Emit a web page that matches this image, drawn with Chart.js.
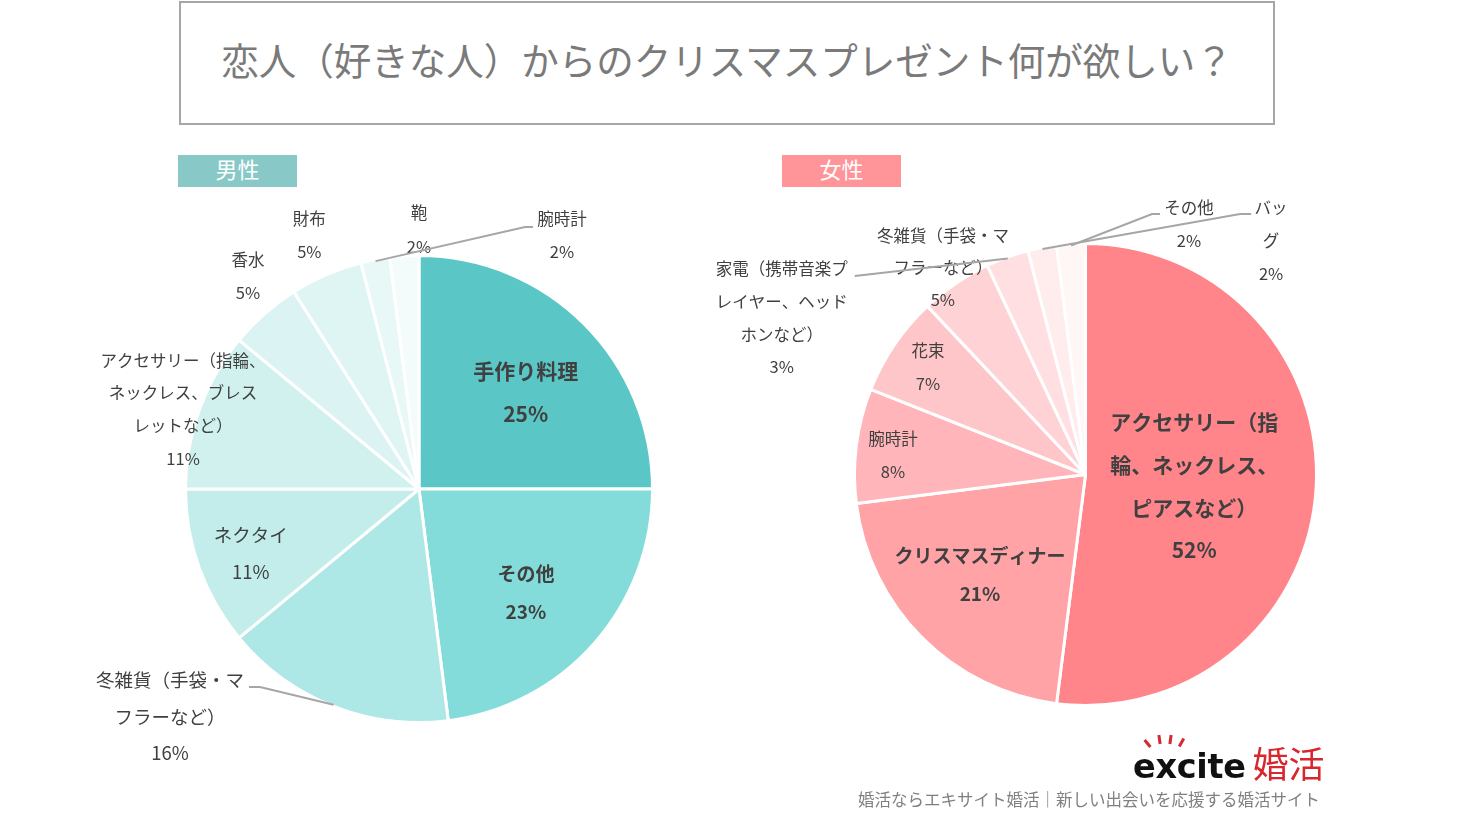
<!DOCTYPE html>
<html lang="ja">
<head>
<meta charset="utf-8">
<script src="https://cdn.jsdelivr.net/npm/chart.js@4.4.1/dist/chart.umd.min.js"></script>
<style>
  body { margin: 0; width: 1460px; height: 822px; background: #fff; position: relative; overflow: hidden;
         font-family: "Noto Sans CJK JP", "Noto Sans", sans-serif; }
  #title { position: absolute; left: 179px; top: 1px; width: 1092px; height: 120px; border: 2px solid #a6a6a6;
           display: flex; align-items: center; justify-content: center; box-sizing: content-box;
           font-size: 37.5px; color: #7a7a7a; }
  #title span { position: relative; top: -5px; }
  .tag { position: absolute; top: 155px; width: 119px; height: 32px; color: #fff; font-size: 22px;
         line-height: 26px; text-align: center; }
  #tagM { left: 178px; background: #88c9c8; }
  #tagF { left: 782px; background: #ff9499; }
  canvas { position: absolute; top: 0; }
  #male { left: 0; }
  #female { left: 680px; }
  #logo { position: absolute; left: 1133px; top: 736px; white-space: nowrap; }
  #logo .ex { font-family: "DejaVu Sans", sans-serif; font-weight: bold; font-size: 33.5px; color: #111; letter-spacing: -0.3px; }
  #logo .kk { font-size: 36px; color: #d7282f; margin-left: 7px; }
  .ray { position: absolute; width: 3px; height: 9px; background: #d7282f; }
  #tagline { position: absolute; right: 140px; top: 787px; font-size: 16.5px; color: #808080; white-space: nowrap; }
</style>
</head>
<body>
<div id="title"><span>恋人（好きな人）からのクリスマスプレゼント何が欲しい？</span></div>
<div class="tag" id="tagM">男性</div>
<div class="tag" id="tagF">女性</div>
<canvas id="male" width="730" height="822"></canvas>
<canvas id="female" width="780" height="822"></canvas>
<div id="logo"><span class="ex">excite</span><span class="kk">婚活</span></div>
<div class="ray" style="left:1146px;top:739px;transform:rotate(-40deg)"></div>
<div class="ray" style="left:1158px;top:735px;transform:rotate(-8deg)"></div>
<div class="ray" style="left:1169px;top:735px;transform:rotate(8deg)"></div>
<div class="ray" style="left:1180px;top:738px;transform:rotate(30deg)"></div>
<div id="tagline">婚活ならエキサイト婚活｜新しい出会いを応援する婚活サイト</div>
<script>
// 男性
const maleCategories = ['手作り料理', 'その他', '冬雑貨（手袋・マフラーなど）', 'ネクタイ',
  'アクセサリー（指輪、ネックレス、ブレスレットなど）', '香水', '財布', '鞄', '腕時計'];
const maleValues = [25, 23, 16, 11, 11, 5, 5, 2, 2];
const maleColors = ['#5bc6c6', '#84dcda', '#ade8e6', '#c3edeb', '#d1f1ef', '#dbf4f3', '#dff5f4', '#e8f8f7', '#f4fbfb'];

// 女性
const femaleCategories = ['アクセサリー（指輪、ネックレス、ピアスなど）', 'クリスマスディナー', '腕時計', '花束',
  '冬雑貨（手袋・マフラーなど）', '家電（携帯音楽プレイヤー、ヘッドホンなど）', 'その他', 'バッグ'];
const femaleValues = [52, 21, 8, 7, 5, 3, 2, 2];
const femaleColors = ['#ff858b', '#ffa3a7', '#ffb5b9', '#ffc6c9', '#ffd2d5', '#ffdfe1', '#ffedee', '#fff6f6'];

// ラベルの配置（中心角方向 k*半径 + ずれ）
const maleLabelStyle = [
  { k: 0.65, dx: 0, dy: 10, size: 21, bold: true, lh: 43 },
  { k: 0.62, dx: -1, dy: 9, size: 19, bold: true, lh: 38 },
  { k: 1, dx: -163.6, dy: 11.8, size: 18.5, lh: 36.5, wrap: [8], leader: { from: 2, pts: [[90, -29.5], [79, -29.5]] } },
  { k: 0.78, dx: 2, dy: 3, size: 18.5, lh: 37 },
  { k: 1.09, dx: 2, dy: 6, size: 16.5, lh: 32.7, wrap: [10, 19] },
  { k: 1.18, dx: 10, dy: -7, size: 16.5, lh: 33 },
  { k: 1.19, dx: 0, dy: 0, size: 16.5, lh: 33 },
  { k: 1, dx: 43.5, dy: -31, size: 16.5, lh: 34 },
  { k: 1, dx: 157.6, dy: -22, size: 16.5, lh: 33, leader: { from: 7, pts: [[-37, -8.5], [-29, -8.5]] } }
];
const femaleLabelStyle = [
  { k: 0.47, dx: 1, dy: 5, size: 21, bold: true, lh: 42.7, wrap: [8, 16] },
  { k: 0.65, dx: 0, dy: -5, size: 19, bold: true, lh: 38 },
  { k: 0.85, dx: 1, dy: 5.5, size: 16.5, lh: 33 },
  { k: 0.83, dx: 0, dy: 0, size: 16.5, lh: 33 },
  { k: 1.09, dx: -2, dy: 0, size: 16.5, lh: 32, wrap: [8] },
  { k: 1, dx: -226, dy: 59.4, size: 16.5, lh: 32.7, wrap: [8, 16], leader: { from: 5, pts: [[73, -42]] } },
  { k: 1, dx: 146.5, dy: -24.6, size: 16.5, lh: 33, leader: { from: 7, pts: [[-37, -10.5], [-29, -10.5]] } },
  { k: 1, dx: 200, dy: -4.5, size: 16.5, lh: 33, wrap: [2], leader: { from: 6, pts: [[-31, -27], [-20, -27]] } }
];

const FONT = '"Noto Sans CJK JP", "Noto Sans", sans-serif';

function splitAt(text, breaks) {
  const out = [];
  let last = 0;
  (breaks || []).forEach(b => { out.push(text.slice(last, b)); last = b; });
  out.push(text.slice(last));
  return out;
}

const sliceLabels = {
  id: 'sliceLabels',
  afterDatasetsDraw(chart, args, opts) {
    const ctx = chart.ctx;
    const values = chart.data.datasets[0].data;
    const arcs = chart.getDatasetMeta(0).data;
    const total = values.reduce((a, b) => a + b, 0);
    const edge = (idx) => {
      const p = arcs[idx].getProps(['x', 'y', 'startAngle', 'endAngle', 'outerRadius'], true);
      const mid = (p.startAngle + p.endAngle) / 2;
      return { p, mid, r: p.outerRadius - 1.5 };
    };
    ctx.save();
    opts.styles.forEach((st, i) => {
      const { p, mid, r } = edge(i);
      const lx = p.x + Math.cos(mid) * r * st.k + st.dx;
      const ly = p.y + Math.sin(mid) * r * st.k + st.dy;
      if (st.leader) {
        const e = edge(st.leader.from);
        ctx.beginPath();
        ctx.moveTo(e.p.x + Math.cos(e.mid) * e.r, e.p.y + Math.sin(e.mid) * e.r);
        st.leader.pts.forEach(([ox, oy]) => ctx.lineTo(lx + ox, ly + oy));
        ctx.strokeStyle = '#a6a6a6';
        ctx.lineWidth = 2;
        ctx.stroke();
      }
      const lines = splitAt(chart.data.labels[i], st.wrap);
      lines.push(Math.round(values[i] / total * 100) + '%');
      ctx.fillStyle = '#404040';
      ctx.font = (st.bold ? 'bold ' : '') + st.size + 'px ' + FONT;
      ctx.textAlign = 'center';
      ctx.textBaseline = 'middle';
      lines.forEach((t, j) => {
        ctx.fillText(t, lx, ly + (j - (lines.length - 1) / 2) * st.lh);
      });
    });
    ctx.restore();
  }
};

function makePie(id, labels, values, colors, radius, padding, styles) {
  return new Chart(document.getElementById(id), {
    type: 'pie',
    data: {
      labels: labels,
      datasets: [{
        data: values,
        backgroundColor: colors,
        borderColor: '#ffffff',
        borderWidth: 3
      }]
    },
    options: {
      responsive: false,
      animation: false,
      events: [],
      radius: radius,
      layout: { padding: padding },
      plugins: {
        legend: { display: false },
        tooltip: { enabled: false },
        sliceLabels: { styles: styles }
      }
    },
    plugins: [sliceLabels]
  });
}

makePie('male', maleCategories, maleValues, maleColors, 233.5,
  { left: 108, right: 0, top: 156, bottom: 0 }, maleLabelStyle);
makePie('female', femaleCategories, femaleValues, femaleColors, 231,
  { left: 31, right: 0, top: 127, bottom: 0 }, femaleLabelStyle);
</script>
</body>
</html>
